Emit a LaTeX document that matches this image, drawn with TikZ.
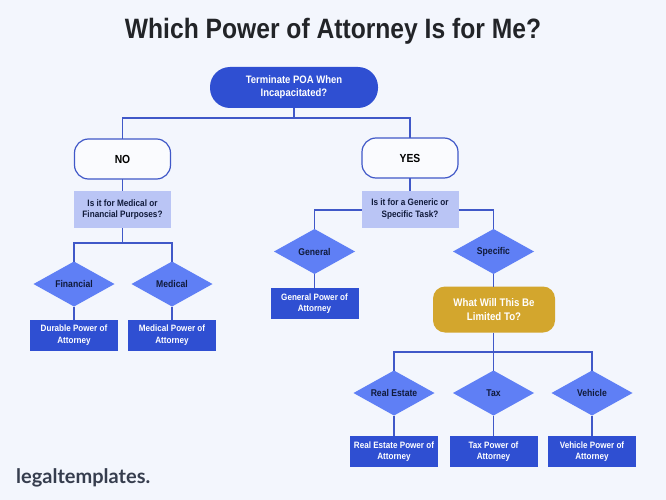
\documentclass[tikz,border=0pt]{standalone}
\usepackage{fontspec}
\setmainfont{Liberation Sans}[FakeStretch=0.88]
\newfontfamily\logofont{Lato}
\usetikzlibrary{shapes.geometric}
\definecolor{pagebg}{HTML}{F3F6FD}
\definecolor{darkblue}{HTML}{2F4FD2}
\definecolor{midblue}{HTML}{5F7FF5}
\definecolor{paleblue}{HTML}{BAC5F5}
\definecolor{linkblue}{HTML}{4058C8}
\definecolor{gold}{HTML}{D3A62D}
\definecolor{navy}{HTML}{101A3A}
\definecolor{ink}{HTML}{222428}
\definecolor{slate}{HTML}{363D4E}
\tikzset{
	link/.style={draw=linkblue, line width=1.5pt},
	heading/.style={text=ink, font=\fontsize{28}{32}\selectfont\bfseries, inner sep=0pt},
	startbox/.style={rectangle, rounded corners=20pt, fill=darkblue, text=white,
		minimum width=168pt, minimum height=41pt, align=center, outer sep=0pt,
		font=\fontsize{10.8}{13.4}\selectfont\bfseries},
	answer/.style={rectangle, rounded corners=14pt, draw=linkblue, line width=1.2pt,
		fill=white!60!pagebg, text=black, minimum width=96pt, minimum height=40pt,
		outer sep=0pt, font=\fontsize{11.7}{14}\selectfont\bfseries},
	question/.style={rectangle, fill=paleblue, text=navy, minimum width=97pt,
		minimum height=37pt, align=center, outer sep=0pt,
		font=\fontsize{9.3}{11.3}\selectfont\bfseries},
	choice/.style={diamond, fill=midblue, text=navy, minimum width=81pt,
		minimum height=45pt, aspect=1.8, inner sep=0pt, outer sep=0pt,
		font=\fontsize{9.8}{11}\selectfont\bfseries},
	result/.style={rectangle, fill=darkblue, text=white, minimum width=88pt,
		minimum height=31pt, align=center, inner sep=1pt, outer sep=0pt,
		font=\fontsize{9.2}{11.6}\selectfont\bfseries},
	limitbox/.style={rectangle, rounded corners=12pt, fill=gold, text=white,
		minimum width=122pt, minimum height=46pt, align=center, outer sep=0pt,
		font=\fontsize{11}{14}\selectfont\bfseries},
}
\begin{document}
\begin{tikzpicture}[x=1pt, y=-1pt]
	\fill[pagebg] (0,0) rectangle (666,500);
	\useasboundingbox (0,0) rectangle (666,500);
	\node[heading, anchor=base] (title) at (333,39) {Which Power of Attorney Is for Me?};
	% first question
	\node[startbox] (poa) at (294,87.5) {Terminate POA When\\Incapacitated?};
	\node[answer] (no) at (122.5,159) {NO};
	\node[answer] (yes) at (410,158) {YES};
	% NO branch
	\node[question] (purpose) at (122.5,209.5) {Is it for Medical or\\Financial Purposes?};
	\node[choice] (financial) at (74,284) {Financial};
	\node[choice] (medical) at (172,284) {Medical};
	\node[result] (durablepoa) at (74,335) {Durable Power of\\Attorney};
	\node[result] (medicalpoa) at (172,335) {Medical Power of\\Attorney};
	% YES branch
	\node[question] (task) at (410,209) {Is it for a Generic or\\Specific Task?};
	\node[choice] (general) at (314.5,251.5) {General};
	\node[choice] (specific) at (493.5,251.5) {Specific};
	\node[result] (generalpoa) at (314.5,303.5) {General Power of\\Attorney};
	\node[limitbox] (limit) at (494,309.5) {What Will This Be\\Limited To?};
	\node[choice] (realestate) at (394,393) {Real Estate};
	\node[choice] (tax) at (493.5,393) {Tax};
	\node[choice] (vehicle) at (592,393) {Vehicle};
	\node[result] (realestatepoa) at (394,451.5) {Real Estate Power of\\Attorney};
	\node[result] (taxpoa) at (493.5,451.5) {Tax Power of\\Attorney};
	\node[result] (vehiclepoa) at (592,451.5) {Vehicle Power of\\Attorney};
	% connectors
	\coordinate (split1) at (294,118);
	\coordinate (split2) at (122.5,243);
	\coordinate (split3) at (493.5,352);
	\draw[link] (poa.south) -- (split1) -| (no.north);
	\draw[link] (split1) -| (yes.north);
	\draw[link] (no.south) -- (purpose.north);
	\draw[link] (purpose.south) -- (split2) -| (financial.north);
	\draw[link] (split2) -| (medical.north);
	\draw[link] (financial.south) -- (durablepoa.north);
	\draw[link] (medical.south) -- (medicalpoa.north);
	\draw[link] (yes.south) -- (task.north);
	\draw[link] ([yshift=-1pt]task.west) -| (general.north);
	\draw[link] ([yshift=-1pt]task.east) -| (specific.north);
	\draw[link] (general.south) -- (generalpoa.north);
	\draw[link] (specific.south) -- (limit.north -| specific.south);
	\draw[link] (limit.south -| split3) -- (split3) -| (realestate.north);
	\draw[link] (split3) -- (tax.north);
	\draw[link] (split3) -| (vehicle.north);
	\draw[link] (realestate.south) -- (realestatepoa.north);
	\draw[link] (tax.south) -- (taxpoa.north);
	\draw[link] (vehicle.south) -- (vehiclepoa.north);
	% logo
	\node[anchor=base west, inner sep=0pt, text=slate, font=\fontsize{20}{22}\logofont\bfseries] (logo) at (16,483) {legaltemplates.};
\end{tikzpicture}
\end{document}
